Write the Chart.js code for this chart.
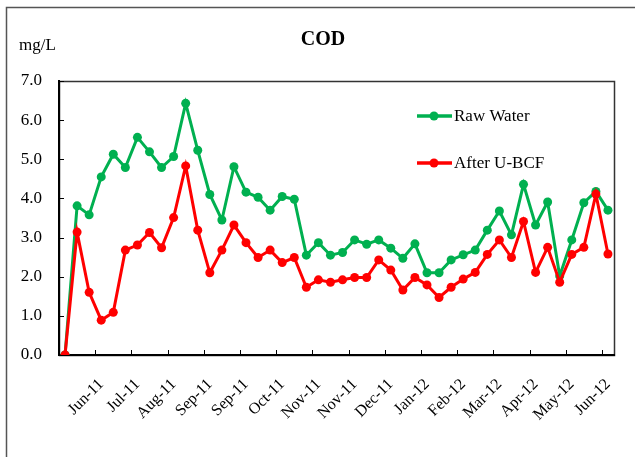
<!DOCTYPE html>
<html>
<head>
<meta charset="utf-8">
<script src="https://cdn.jsdelivr.net/npm/chart.js@4"></script>
<style>
    html, body { margin: 0; padding: 0; background: #fff; }
    #wrap { width: 635px; height: 457px; }
</style>
</head>
<body>
<div id="wrap"><canvas id="codChart" width="635" height="457"></canvas></div>
<script>
// tick labels sit on every third sample (index 3, 6, ... 45)
const tickLabels = ["Jun-11", "Jul-11", "Aug-11", "Sep-11", "Sep-11", "Oct-11", "Nov-11", "Nov-11",
    "Dec-11", "Jan-12", "Feb-12", "Mar-12", "Apr-12", "May-12", "Jun-12"];
const rawWater = [0, 3.81, 3.58, 4.55, 5.13, 4.79, 5.56, 5.19, 4.79, 5.07, 6.43, 5.23, 4.10, 3.45, 4.81, 4.16,
    4.03, 3.70, 4.05, 3.98, 2.55, 2.87, 2.55, 2.62, 2.94, 2.83, 2.94, 2.73, 2.47, 2.84, 2.10, 2.10,
    2.43, 2.56, 2.68, 3.19, 3.68, 3.07, 4.36, 3.32, 3.91, 2.02, 2.94, 3.89, 4.18, 3.70];
const afterUBCF = [0, 3.14, 1.60, 0.89, 1.09, 2.68, 2.81, 3.13, 2.74, 3.51, 4.83, 3.19, 2.10, 2.68, 3.32, 2.87,
    2.49, 2.68, 2.36, 2.49, 1.73, 1.92, 1.86, 1.92, 1.98, 1.98, 2.43, 2.17, 1.66, 1.98, 1.79, 1.47,
    1.73, 1.94, 2.11, 2.57, 2.94, 2.49, 3.41, 2.11, 2.75, 1.86, 2.57, 2.75, 4.11, 2.58];
const yTicks = [0, 1, 2, 3, 4, 5, 6, 7];

const GREEN = "#00b050";
const RED = "#ff0000";
const FONT = "'Liberation Serif', 'Times New Roman', serif";

let labels = rawWater.map((v, i) => (i > 0 && i % 3 === 0) ? tickLabels[i / 3 - 1] : "");

const decorPlugin = {
    id: "decor",
    beforeDraw(chart) {
        let ctx = chart.ctx;
        let a = chart.chartArea;
        ctx.save();
        // outer frame (left + top only visible)
        ctx.strokeStyle = "#555";
        ctx.lineWidth = 1.5;
        ctx.strokeRect(6.5, 7.5, 800, 600);
        // plot box
        ctx.strokeStyle = "#333";
        ctx.lineWidth = 1.5;
        ctx.strokeRect(a.left + 0.5, a.top + 0.5, a.right - a.left, a.bottom - a.top);
        ctx.restore();
    },
    afterDraw(chart) {
        let ctx = chart.ctx;
        let a = chart.chartArea;
        let x = chart.scales.x;
        let y = chart.scales.y;
        ctx.save();
        // inner tick marks
        ctx.strokeStyle = "#000";
        ctx.lineWidth = 1;
        ctx.beginPath();
        for (let k = 3; k < rawWater.length; k += 3) {
            let px = Math.round((x.getPixelForValue(k - 1) + x.getPixelForValue(k)) / 2) + 0.5;
            ctx.moveTo(px, a.bottom);
            ctx.lineTo(px, a.bottom - 5);
        }
        yTicks.forEach(v => {
            let py = Math.round(y.getPixelForValue(v)) + 0.5;
            ctx.moveTo(a.left, py);
            ctx.lineTo(a.left + 5, py);
        });
        ctx.stroke();

        // title and unit
        ctx.fillStyle = "#000";
        ctx.textBaseline = "middle";
        ctx.textAlign = "center";
        ctx.font = "bold 20px " + FONT;
        ctx.fillText("COD", 323, 40);
        ctx.textAlign = "left";
        ctx.font = "17px " + FONT;
        ctx.fillText("mg/L", 19, 46);

        // legend
        let items = [["Raw Water", GREEN], ["After U-BCF", RED]];
        items.forEach((it, i) => {
            let ly = a.top + 35 + i * 47;
            let lx = a.left + 358;
            ctx.strokeStyle = it[1];
            ctx.fillStyle = it[1];
            ctx.lineWidth = 3.5;
            ctx.beginPath();
            ctx.moveTo(lx, ly);
            ctx.lineTo(lx + 35, ly);
            ctx.stroke();
            ctx.beginPath();
            ctx.arc(lx + 17, ly, 4.5, 0, Math.PI * 2);
            ctx.fill();
            ctx.fillStyle = "#000";
            ctx.font = "17px " + FONT;
            ctx.fillText(it[0], lx + 37, ly + 1);
        });
        ctx.restore();
    }
};

new Chart(document.getElementById("codChart"), {
    type: "line",
    data: {
        labels: labels,
        datasets: [{
            label: "Raw Water",
            data: rawWater,
            borderColor: GREEN,
            backgroundColor: GREEN,
            borderWidth: 3,
            pointRadius: 4.5,
            pointBorderWidth: 0,
            tension: 0,
            order: 2
        }, {
            label: "After U-BCF",
            data: afterUBCF,
            borderColor: RED,
            backgroundColor: RED,
            borderWidth: 3,
            pointRadius: 4.5,
            pointBorderWidth: 0,
            tension: 0,
            order: 1
        }]
    },
    options: {
        responsive: false,
        animation: false,
        layout: { padding: { top: 81, right: 21, left: 0, bottom: 0 } },
        plugins: {
            legend: { display: false },
            title: { display: false },
            tooltip: { enabled: false }
        },
        scales: {
            x: {
                offset: true,
                grid: { display: true, drawOnChartArea: false, drawTicks: false },
                border: { color: "#000", width: 2 },
                ticks: {
                    autoSkip: false,
                    maxRotation: 45,
                    minRotation: 45,
                    padding: 20,
                    color: "#000",
                    font: { family: FONT, size: 16 }
                },
                afterFit(scale) {
                    scale.height = 102;
                    scale.paddingLeft = 0;
                    scale.paddingRight = 0;
                }
            },
            y: {
                min: 0,
                max: 7,
                grid: { display: true, drawOnChartArea: false, drawTicks: false },
                border: { color: "#000", width: 2 },
                ticks: {
                    stepSize: 1,
                    padding: 17,
                    color: "#000",
                    font: { family: FONT, size: 17 },
                    callback: v => v.toFixed(1)
                },
                afterFit(scale) { scale.width = 59; }
            }
        }
    },
    plugins: [decorPlugin]
});
</script>
</body>
</html>
